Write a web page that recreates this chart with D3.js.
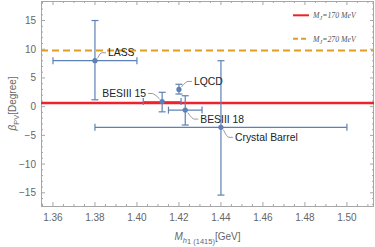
<!DOCTYPE html>
<html>
<head>
<meta charset="utf-8">
<script src="https://cdn.jsdelivr.net/npm/d3@7"></script>
<style>
  html, body { margin: 0; padding: 0; background: #fff; }
  svg { display: block; font-family: "Liberation Sans", Arial, sans-serif; }
</style>
</head>
<body>
<div id="chart"></div>
<script>
// measurements of the h1(1415) mass and mixing angle
const names = ['LASS', 'BESIII 15', 'LQCD', 'BESIII 18', 'Crystal Barrel'];
const masses = [1.38, 1.412, 1.42, 1.423, 1.44];
const massLo = [1.36, 1.403, 1.42, 1.415, 1.38];
const massHi = [1.40, 1.421, 1.42, 1.431, 1.50];
const angles = [8.0, 0.9, 3.0, -0.6, -3.6];
const angleLo = [1.2, -0.9, 2.2, -3.2, -15.4];
const angleHi = [15.0, 2.5, 3.9, 1.9, 8.0];

// theory predictions (horizontal lines)
const lineNames = ['170', '270'];
const lineValues = [0.65, 9.8];

const xTicks = [1.36, 1.38, 1.40, 1.42, 1.44, 1.46, 1.48, 1.50];
const yTicks = [-15, -10, -5, 0, 5, 10, 15];

// callout placement, pixels relative to the point
const callout = [
  { dx: 13, dy: -8, anchor: 'start' },
  { dx: -16, dy: -8, anchor: 'end' },
  { dx: 15, dy: -8, anchor: 'start' },
  { dx: 15, dy: 9, anchor: 'start' },
  { dx: 14, dy: 10, anchor: 'start' },
];

const W = 375, H = 247;
const mL = 41, mR = 374, mT = 1, mB = 206;
const blue = '#5e81b5';

const svg = d3.select('#chart').append('svg')
  .attr('width', W).attr('height', H);

const x = d3.scaleLinear().domain([1.3543, 1.5129]).range([mL, mR]);
const y = d3.scaleLinear().domain([-17.3, 18.4]).range([mB, mT]);

// frame
svg.append('rect')
  .attr('x', mL + 0.5).attr('y', mT + 0.5)
  .attr('width', mR - mL - 1).attr('height', mB - mT)
  .attr('fill', 'none').attr('stroke', '#a6a6a6').attr('stroke-width', 1);

// ticks on all four sides, pointing inward
const fmtX = d3.format('.2f');
const xMinor = d3.range(1.355, 1.513, 0.005);
const yMinor = d3.range(-17, 18.5, 1);
const tickG = svg.append('g').attr('stroke', '#a6a6a6').attr('stroke-width', 1);
xMinor.forEach((v) => {
  const major = xTicks.some((t) => Math.abs(t - v) < 1e-6);
  const len = major ? 4 : 2;
  tickG.append('line').attr('x1', x(v)).attr('x2', x(v)).attr('y1', mB).attr('y2', mB - len);
  tickG.append('line').attr('x1', x(v)).attr('x2', x(v)).attr('y1', mT).attr('y2', mT + len);
});
yMinor.forEach((v) => {
  const major = yTicks.includes(v);
  const len = major ? 4 : 2;
  tickG.append('line').attr('y1', y(v)).attr('y2', y(v)).attr('x1', mL).attr('x2', mL + len);
  tickG.append('line').attr('y1', y(v)).attr('y2', y(v)).attr('x1', mR).attr('x2', mR - len);
});

svg.append('g').selectAll('text').data(xTicks).join('text')
  .attr('x', (d) => x(d)).attr('y', 221)
  .attr('text-anchor', 'middle')
  .attr('font-size', 10).attr('fill', '#666')
  .text((d) => fmtX(d));

svg.append('g').selectAll('text').data(yTicks).join('text')
  .attr('x', 36).attr('y', (d) => y(d) + 3.5)
  .attr('text-anchor', 'end')
  .attr('font-size', 10).attr('fill', '#666')
  .text((d) => (d < 0 ? '\u2212' + Math.abs(d) : d));

// axis titles
const xt = svg.append('text')
  .attr('x', (mL + mR) / 2).attr('y', 240)
  .attr('text-anchor', 'middle').attr('font-size', 10).attr('fill', '#666');
xt.append('tspan').attr('font-style', 'italic').text('M');
xt.append('tspan').attr('font-size', 7.5).attr('dy', 2.5).attr('font-style', 'italic').text('h');
xt.append('tspan').attr('font-size', 7.5).attr('dy', 1.5).text('1');
xt.append('tspan').attr('font-size', 7.5).attr('dy', 0).text(' (1415)');
xt.append('tspan').attr('dy', -4).text('[GeV]');

const yt = svg.append('text')
  .attr('transform', `translate(16,${(mT + mB) / 2}) rotate(-90)`)
  .attr('text-anchor', 'middle').attr('font-size', 10).attr('fill', '#666');
yt.append('tspan').attr('font-style', 'italic').text('\u03b2');
yt.append('tspan').attr('font-size', 7.5).attr('dy', 2.5).text('PV');
yt.append('tspan').attr('dy', -2.5).text('[Degree]');

// horizontal theory lines
svg.append('line')
  .attr('x1', mL).attr('x2', mR)
  .attr('y1', y(lineValues[0])).attr('y2', y(lineValues[0]))
  .attr('stroke', '#f0212b').attr('stroke-width', 2.6);
svg.append('line')
  .attr('x1', mL).attr('x2', mR)
  .attr('y1', y(lineValues[1])).attr('y2', y(lineValues[1]))
  .attr('stroke', '#e19c24').attr('stroke-width', 2).attr('stroke-dasharray', '7,4');

// error bars
const pts = names.map((n, i) => ({
  name: n, m: masses[i], mLo: massLo[i], mHi: massHi[i],
  a: angles[i], aLo: angleLo[i], aHi: angleHi[i], c: callout[i],
}));
const cap = 3.5;
const eb = svg.append('g').attr('stroke', blue).attr('stroke-width', 1.2).attr('fill', 'none');
pts.forEach((d) => {
  const px = x(d.m), py = y(d.a);
  eb.append('line').attr('x1', px).attr('x2', px).attr('y1', y(d.aLo)).attr('y2', y(d.aHi));
  eb.append('line').attr('x1', px - cap).attr('x2', px + cap).attr('y1', y(d.aLo)).attr('y2', y(d.aLo));
  eb.append('line').attr('x1', px - cap).attr('x2', px + cap).attr('y1', y(d.aHi)).attr('y2', y(d.aHi));
  if (d.mHi > d.mLo) {
    eb.append('line').attr('y1', py).attr('y2', py).attr('x1', x(d.mLo)).attr('x2', x(d.mHi));
    eb.append('line').attr('y1', py - cap).attr('y2', py + cap).attr('x1', x(d.mLo)).attr('x2', x(d.mLo));
    eb.append('line').attr('y1', py - cap).attr('y2', py + cap).attr('x1', x(d.mHi)).attr('x2', x(d.mHi));
  }
});
svg.append('g').selectAll('circle').data(pts).join('circle')
  .attr('cx', (d) => x(d.m)).attr('cy', (d) => y(d.a))
  .attr('r', 2.6).attr('fill', blue);

// callouts
pts.forEach((d) => {
  const px = x(d.m), py = y(d.a);
  const sx = Math.sign(d.c.dx), sy = Math.sign(d.c.dy);
  const tx = px + d.c.dx, ty = py + d.c.dy;
  const start = [px + sx * 2.5, py + sy * 2.5];
  const end = [tx - sx * 2, ty];
  const knee = [tx - sx * 6, ty];
  svg.append('path')
    .attr('d', `M${start[0]},${start[1]} Q${knee[0] - sx * 2},${ty} ${knee[0]},${ty} L${end[0]},${end[1]}`)
    .attr('fill', 'none').attr('stroke', '#9a9a9a').attr('stroke-width', 1);
  svg.append('text')
    .attr('x', tx).attr('y', ty + 3.7)
    .attr('text-anchor', d.c.anchor)
    .attr('font-size', 10.4).attr('fill', '#222')
    .text(d.name);
});

// legend
const legY = [15.3, 38.7];
const leg = svg.append('g');
lineNames.forEach((n, i) => {
  const ln = leg.append('line')
    .attr('x1', 293).attr('x2', 309).attr('y1', legY[i]).attr('y2', legY[i]);
  if (i === 0) ln.attr('stroke', '#f0212b').attr('stroke-width', 2);
  else ln.attr('stroke', '#e19c24').attr('stroke-width', 2).attr('stroke-dasharray', '5,3');
  const t = leg.append('text')
    .attr('x', 313).attr('y', legY[i] + 3)
    .attr('font-family', '"Liberation Serif", "DejaVu Serif", serif')
    .attr('font-style', 'italic').attr('font-size', 7.8).attr('fill', '#555');
  t.append('tspan').text('M');
  t.append('tspan').attr('font-size', 6).attr('dy', 2).text('J');
  t.append('tspan').attr('dy', -2).text('=' + n + ' MeV');
});
</script>
</body>
</html>
